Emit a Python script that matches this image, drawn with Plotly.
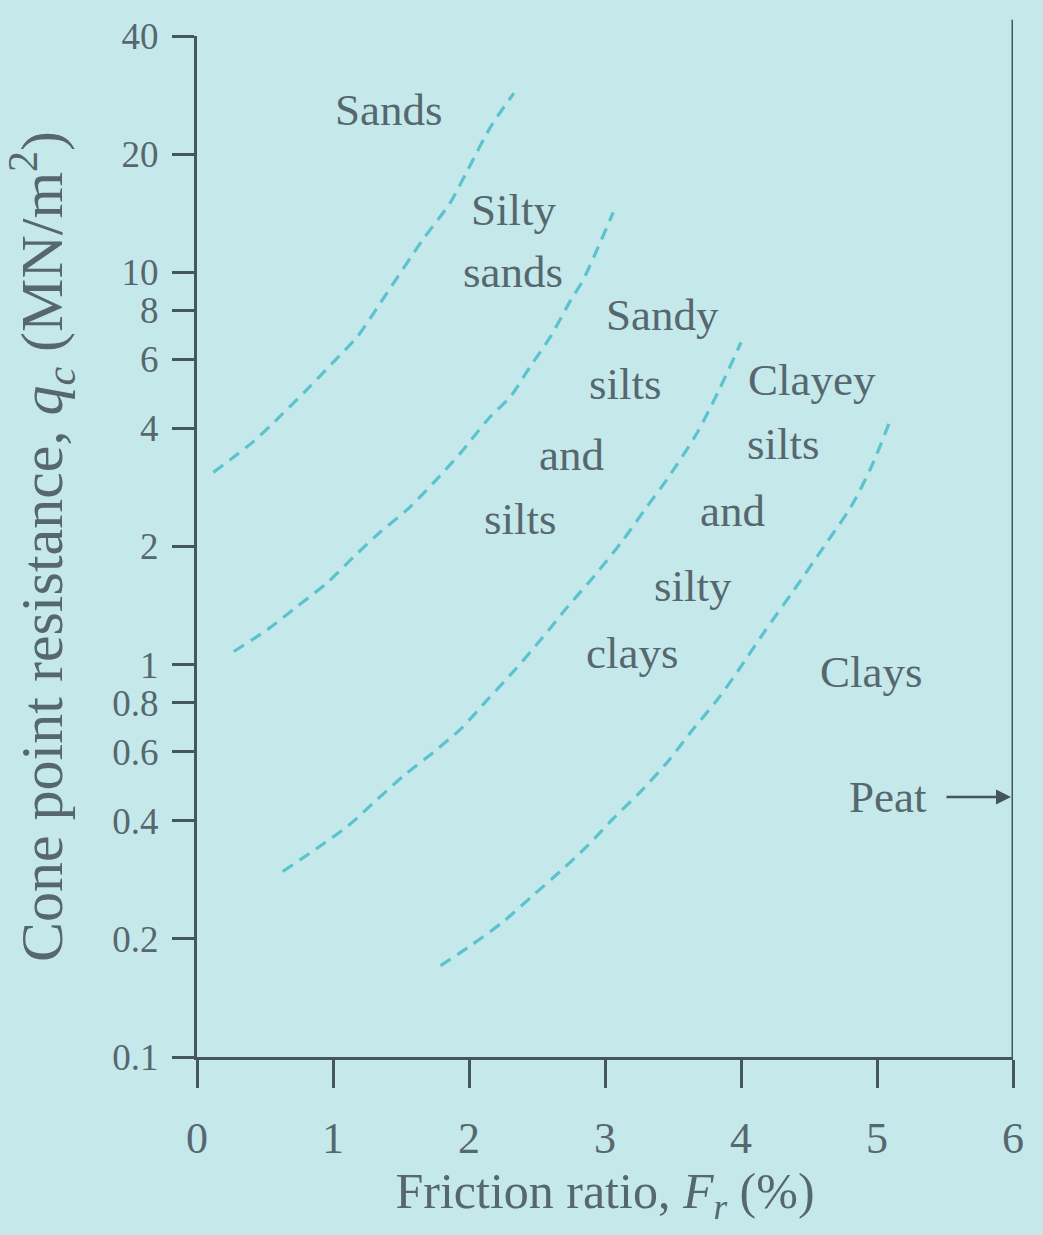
import math
import plotly.graph_objects as go

# ---- data ----
boundary_1_x = [0.12, 0.41, 0.61, 0.81, 1.00, 1.18, 1.35, 1.66, 1.86, 1.99, 2.16, 2.33]
boundary_1_y = [3.09, 3.69, 4.29, 5.03, 5.89, 6.86, 8.37, 12.1, 15.0, 18.2, 23.5, 28.6]

boundary_2_x = [0.27, 0.52, 0.74, 0.96, 1.15, 1.35, 1.55, 1.74, 1.94, 2.14, 2.31, 2.45, 2.60, 2.75, 2.84, 3.06]
boundary_2_y = [1.08, 1.23, 1.41, 1.62, 1.88, 2.18, 2.49, 2.91, 3.47, 4.22, 4.85, 5.75, 6.86, 8.51, 9.57, 14.2]

boundary_3_x = [0.63, 0.88, 1.11, 1.33, 1.52, 1.74, 1.94, 2.14, 2.33, 2.53, 2.73, 2.92, 3.12, 3.31, 3.46, 3.68, 3.83, 4.00]
boundary_3_y = [0.297, 0.340, 0.388, 0.455, 0.521, 0.599, 0.686, 0.817, 0.963, 1.16, 1.41, 1.68, 2.05, 2.53, 2.98, 3.91, 4.94, 6.62]

boundary_4_x = [1.79, 2.01, 2.25, 2.47, 2.67, 2.87, 3.06, 3.26, 3.46, 3.65, 3.83, 3.98, 4.17, 4.39, 4.61, 4.81, 4.96, 5.10]
boundary_4_y = [0.171, 0.192, 0.221, 0.258, 0.297, 0.345, 0.405, 0.474, 0.565, 0.686, 0.817, 0.966, 1.21, 1.55, 2.00, 2.53, 3.20, 4.22]

x_tick_vals = [0, 1, 2, 3, 4, 5, 6]
y_tick_vals = [0.1, 0.2, 0.4, 0.6, 0.8, 1, 2, 4, 6, 8, 10, 20, 40]
y_tick_text = ["0.1", "0.2", "0.4", "0.6", "0.8", "1", "2", "4", "6", "8", "10", "20", "40"]

zone_words = ["Sands", "Silty", "sands", "Sandy", "silts", "and", "silts",
              "Clayey", "silts", "and", "silty", "clays", "Clays"]
zone_word_x = [1.41, 2.33, 2.32, 3.42, 3.15, 2.75, 2.38, 4.52, 4.31, 3.94, 3.645, 3.20, 4.96]
zone_word_y = [25.9, 14.4, 10.0, 7.80, 5.18, 3.43, 2.35, 5.30, 3.64, 2.47, 1.59, 1.07, 0.957]

peat_label = "Peat"
peat_x = 6
peat_y = 0.46

# ---- styling ----
BG = "#c5e9eb"
INK = "#56676e"
AXIS = "#45565e"
DASH = "#5bc3ce"
FONT = "Liberation Serif, Times New Roman, serif"

fig = go.Figure()
for bx, by in [(boundary_1_x, boundary_1_y), (boundary_2_x, boundary_2_y),
               (boundary_3_x, boundary_3_y), (boundary_4_x, boundary_4_y)]:
    fig.add_trace(go.Scatter(
        x=bx, y=by, mode="lines", line_shape="spline",
        line=dict(color=DASH, width=3.2, dash="12px,8px", smoothing=0.8),
        showlegend=False, hoverinfo="skip"))

for w, wx, wy in zip(zone_words, zone_word_x, zone_word_y):
    fig.add_annotation(x=wx, y=math.log10(wy), xref="x", yref="y", text=w,
                       showarrow=False, font=dict(family=FONT, size=45, color=INK))

fig.add_annotation(x=peat_x, y=math.log10(peat_y), text=peat_label, showarrow=True,
                   ax=-125, ay=0, arrowhead=2, arrowsize=1.2, arrowwidth=2.5,
                   arrowcolor=AXIS, standoff=2, startstandoff=18,
                   font=dict(family=FONT, size=45, color=INK))

# right-hand boundary line at Fr = 6
fig.add_shape(type="line", xref="x", yref="paper", x0=6, x1=6, y0=0, y1=1.016,
              line=dict(color=AXIS, width=3))

fig.update_layout(
    width=1043, height=1235,
    paper_bgcolor=BG, plot_bgcolor=BG,
    margin=dict(l=197, r=30, t=36, b=178),
    font=dict(family=FONT, color=INK),
    showlegend=False,
    xaxis=dict(
        range=[0, 6], tickvals=x_tick_vals, ticks="outside", ticklen=28,
        tickwidth=3, tickcolor=AXIS, showline=True, linecolor=AXIS, linewidth=3,
        showgrid=False, zeroline=False, ticklabelstandoff=12,
        tickfont=dict(family=FONT, size=44, color=INK),
        title=dict(text="Friction ratio, <i>F</i><sub><i>r</i></sub> (%)",
                   font=dict(family=FONT, size=50, color=INK), standoff=12),
    ),
    yaxis=dict(
        type="log", range=[math.log10(0.1), math.log10(40)],
        tickvals=y_tick_vals, ticktext=y_tick_text, ticks="outside", ticklen=22,
        tickwidth=3, tickcolor=AXIS, showline=True, linecolor=AXIS, linewidth=3,
        showgrid=False, zeroline=False, ticklabelstandoff=6,
        tickfont=dict(family=FONT, size=37, color=INK),
        title=dict(text="Cone point resistance, <i>q</i><sub><i>c</i></sub> (MN/m<sup>2</sup>)",
                   font=dict(family=FONT, size=60, color=INK), standoff=36),
    ),
)

fig.write_html("out.html")
